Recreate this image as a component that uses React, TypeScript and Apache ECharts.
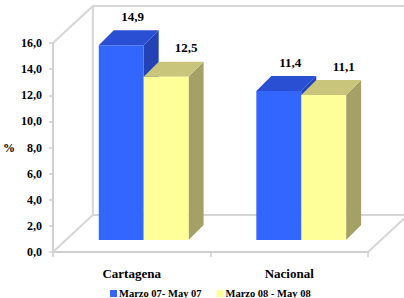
import React, { useEffect, useRef } from "react";
import * as echarts from "echarts";

const categories = ["Cartagena", "Nacional"];
const seriesNames = ["Marzo 07- May 07", "Marzo 08 - May 08"];
const values2007 = [14.9, 11.4];
const values2008 = [12.5, 11.1];
const yMin = 0;
const yMax = 16;
const yStep = 2;

const FONT = "Times New Roman, Liberation Serif, serif";
const WALL_DX = 40;
const WALL_DY = -37;
const BAR_OFF = 12;
const BAR_DEPTH = 15;
const BAR_FRAC = 0.285;
const WALL_COLOR = "#d6d6d6";

const palettes = [
  { front: "#3366FF", top: "#2A4FD2", side: "#2242B6" },
  { front: "#FFFF99", top: "#C9C67C", side: "#A3A165" },
];
const labelShift = [11.5, 20];

const fmt = (v: number) => v.toFixed(1).replace(".", ",");

function barRenderer(si: number) {
  const pal = palettes[si];
  return (params: any, api: any) => {
    const cat = api.value(0);
    const v = api.value(1);
    const base = api.coord([cat, 0]);
    const top = api.coord([cat, v]);
    const band = api.size([1, 0])[0];
    const w = band * BAR_FRAC;
    const x0 = (si === 0 ? base[0] - w : base[0]) + BAR_OFF;
    const yb = base[1] - BAR_OFF;
    const yt = top[1] - BAR_OFF;
    const d = BAR_DEPTH;
    return {
      type: "group",
      children: [
        {
          type: "polygon",
          shape: { points: [[x0 + w, yt], [x0 + w + d, yt - d], [x0 + w + d, yb - d], [x0 + w, yb]] },
          style: { fill: pal.side },
        },
        {
          type: "polygon",
          shape: { points: [[x0, yt], [x0 + w, yt], [x0 + w + d, yt - d], [x0 + d, yt - d]] },
          style: { fill: pal.top },
        },
        {
          type: "rect",
          shape: { x: x0, y: yt, width: w, height: yb - yt },
          style: { fill: pal.front },
        },
        {
          type: "text",
          style: {
            text: fmt(v),
            x: x0 + w / 2 + labelShift[si],
            y: yt - 29,
            align: "center",
            verticalAlign: "middle",
            fontSize: 13,
            fontWeight: "bold",
            fontFamily: FONT,
            fill: "#000",
          },
        },
      ],
    };
  };
}

function wallRenderer(params: any, api: any) {
  const band = api.size([1, 0])[0];
  const c0 = api.coord([0, yMin]);
  const cTop = api.coord([0, yMax]);
  const left = c0[0] - band / 2;
  const right = left + band * categories.length;
  const y0 = c0[1];
  const yT = cTop[1];
  const line = (x1: number, y1: number, x2: number, y2: number) => ({
    type: "line",
    shape: { x1, y1, x2, y2 },
    style: { stroke: WALL_COLOR, lineWidth: 2 },
  });
  return {
    type: "group",
    children: [
      line(left + WALL_DX, y0 + WALL_DY, left + WALL_DX, yT + WALL_DY),
      line(left + WALL_DX, yT + WALL_DY, right + WALL_DX, yT + WALL_DY),
      line(left + WALL_DX, y0 + WALL_DY, right + WALL_DX, y0 + WALL_DY),
      line(right + WALL_DX, y0 + WALL_DY, right + WALL_DX, yT + WALL_DY),
      line(left, yT, left + WALL_DX, yT + WALL_DY),
      line(left, y0, left + WALL_DX, y0 + WALL_DY),
      line(right, y0, right + WALL_DX, y0 + WALL_DY),
    ],
  };
}

export default function App() {
  const ref = useRef<HTMLDivElement>(null);
  useEffect(() => {
    if (!ref.current) return;
    const chart = echarts.init(ref.current, undefined, { renderer: "svg" });
    chart.setOption({
      animation: false,
      backgroundColor: "#fff",
      textStyle: { fontFamily: FONT },
      grid: { left: 46, right: 36, top: 43, bottom: 46, containLabel: false },
      legend: {
        data: seriesNames,
        top: 283,
        left: 105,
        icon: "rect",
        itemWidth: 7,
        itemHeight: 7,
        itemGap: 15,
        textStyle: { fontFamily: FONT, fontSize: 10.5, fontWeight: "bold", color: "#000", padding: [0, 0, 0, -3] },
      },
      xAxis: {
        type: "category",
        data: categories,
        axisLine: { show: true, lineStyle: { color: "#cfcfcf", width: 2 } },
        axisTick: { show: true, alignWithLabel: false, length: 5, lineStyle: { color: "#cfcfcf", width: 1.5 } },
        axisLabel: { fontFamily: FONT, fontSize: 13, fontWeight: "bold", color: "#000", margin: 15 },
        splitLine: { show: false },
      },
      yAxis: {
        type: "value",
        min: yMin,
        max: yMax,
        interval: yStep,
        name: "%",
        nameLocation: "middle",
        nameGap: 31,
        nameRotate: 0,
        nameTextStyle: { fontFamily: FONT, fontSize: 12, fontWeight: "bold", color: "#000" },
        axisLine: { show: true, lineStyle: { color: "#cfcfcf", width: 2 } },
        axisTick: { show: true, length: 4, lineStyle: { color: "#cfcfcf", width: 1.5 } },
        axisLabel: {
          fontFamily: FONT,
          fontSize: 12,
          fontWeight: "bold",
          color: "#000",
          margin: 11,
          formatter: (v: number) => fmt(v),
        },
        splitLine: { show: false },
      },
      series: [
        {
          type: "custom",
          name: "walls",
          silent: true,
          z: 1,
          renderItem: wallRenderer,
          data: [[0, yMax]],
        },
        {
          type: "custom",
          name: seriesNames[0],
          z: 2,
          itemStyle: { color: palettes[0].front },
          renderItem: barRenderer(0),
          data: categories.map((_, i) => [i, values2007[i]]),
        },
        {
          type: "custom",
          name: seriesNames[1],
          z: 3,
          itemStyle: { color: palettes[1].front },
          renderItem: barRenderer(1),
          data: categories.map((_, i) => [i, values2008[i]]),
        },
      ],
    });
    return () => chart.dispose();
  }, []);
  return (
    <div
      ref={ref}
      style={{ position: "fixed", left: 0, top: 0, width: 404, height: 298 }}
    />
  );
}
